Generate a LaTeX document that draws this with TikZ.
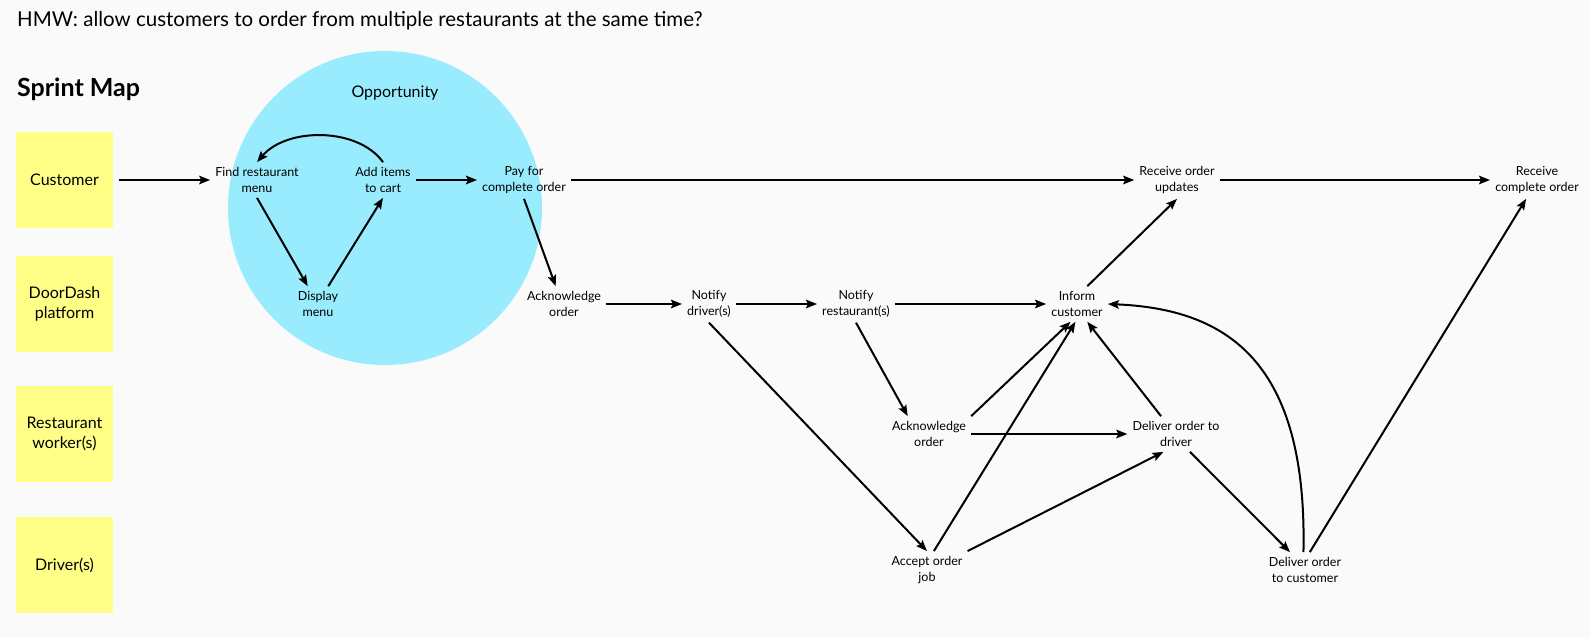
\documentclass[tikz,border=0pt]{standalone}
\usepackage{fontspec}
\setmainfont{Lato}
\usetikzlibrary{arrows.meta}

\definecolor{paper}{HTML}{FAFAFA}
\definecolor{sticky}{HTML}{FFFF88}
\definecolor{oppcyan}{HTML}{99ECFD}

\tikzset{
	lane/.style={fill=sticky, minimum width=97pt, minimum height=96pt, align=center, font=\fontsize{16}{20}\selectfont},
	task/.style={align=center, inner sep=5pt, font=\fontsize{12.5}{16}\selectfont},
	flow/.style={-{Stealth[length=11pt, width=8.5pt, inset=2pt]}, line width=2pt},
	bold flow/.style={flow, line width=2.7pt}
}

\begin{document}
\begin{tikzpicture}[x=1pt, y=-1pt]
		% page
		\fill[paper] (0,0) rectangle (1590,637);
		\useasboundingbox (0,0) rectangle (1590,637);
		% opportunity bubble
		\fill[oppcyan] (385,208) circle (157);
		\node[font=\fontsize{16}{19}\selectfont] (opp) at (395,93) {Opportunity};
		% headings
		\node[anchor=west, inner sep=0pt, font=\fontsize{20.5}{24}\selectfont] (hmw) at (17,21) {HMW: allow customers to order from multiple restaurants at the same time?};
		\node[anchor=west, inner sep=0pt, font=\bfseries\fontsize{25}{30}\selectfont] (sprint) at (17,89) {Sprint Map};
		% swim lanes
		\foreach \nm/\lbl/\y in {cust/Customer/180, plat/{DoorDash\\platform}/304, rest/{Restaurant\\worker(s)}/434, drv/{Driver(s)}/565}
		{
			\node[lane] (\nm) at (64.5,\y) {\lbl};
		}
		% customer row
		\node[task] (find) at (257,180) {Find restaurant\\menu};
		\node[task] (add) at (383,180) {Add items\\to cart};
		\node[task] (pay) at (524,180) {Pay for\\complete order};
		\node[task] (rupd) at (1177,180) {Receive order\\updates};
		\node[task] (rcomp) at (1537,180) {Receive\\complete order};
		% platform row
		\node[task] (disp) at (318,304) {Display\\menu};
		\node[task] (ack) at (564,304) {Acknowledge\\order};
		\node[task] (ndrv) at (709,304) {Notify\\driver(s)};
		\node[task] (nrest) at (856,304) {Notify\\restaurant(s)};
		\node[task] (inform) at (1077,304) {Inform\\customer};
		% restaurant row
		\node[task] (rack) at (929,434) {Acknowledge\\order};
		\node[task] (dlvd) at (1176,434) {Deliver order to\\driver};
		% driver row
		\node[task] (accept) at (927,570) {Accept order\\job};
		\node[task] (dlvc) at (1305,570) {Deliver order\\to customer};
		% ordering loop
		\draw[bold flow, shorten <=6pt] (cust.east) -- (find.west);
		\draw[flow] (find.south) -- (disp.120);
		\draw[flow] (disp.60) -- (add.south);
		\draw[flow] (add.north) .. controls +(-25,-35) and +(30,-35) .. (find.north);
		\draw[bold flow] (add.east) -- (pay.west);
		% customer updates
		\draw[flow] (pay.east) -- (rupd.west);
		\draw[flow] (rupd.east) -- (rcomp.west);
		\draw[flow] (inform.60) -- (rupd.south);
		% platform notifications
		\draw[flow] (pay.south) -- (ack.115);
		\draw[bold flow] (ack.east) -- (ndrv.west);
		\draw[bold flow] (ndrv.east) -- (nrest.west);
		\draw[bold flow] (nrest.east) -- (inform.west);
		\draw[flow] (ndrv.south) -- (accept.north);
		\draw[flow] (nrest.south) -- (rack.140);
		% restaurant and driver hand-off
		\draw[flow] (rack.north east) -- (inform.250);
		\draw[bold flow] (rack.east) -- (dlvd.west);
		\draw[flow] (accept.70) -- (inform.265);
		\draw[flow] (accept.north east) -- (dlvd.235);
		\draw[flow] (dlvd.130) -- (inform.300);
		\draw[flow] (dlvd.-52) -- (dlvc.130);
		% delivery
		\draw[flow] (dlvc.95) .. controls +(4,-190) and +(120,5) .. (inform.east);
		\draw[flow] (dlvc.75) -- (rcomp.240);
	\end{tikzpicture}
\end{document}
